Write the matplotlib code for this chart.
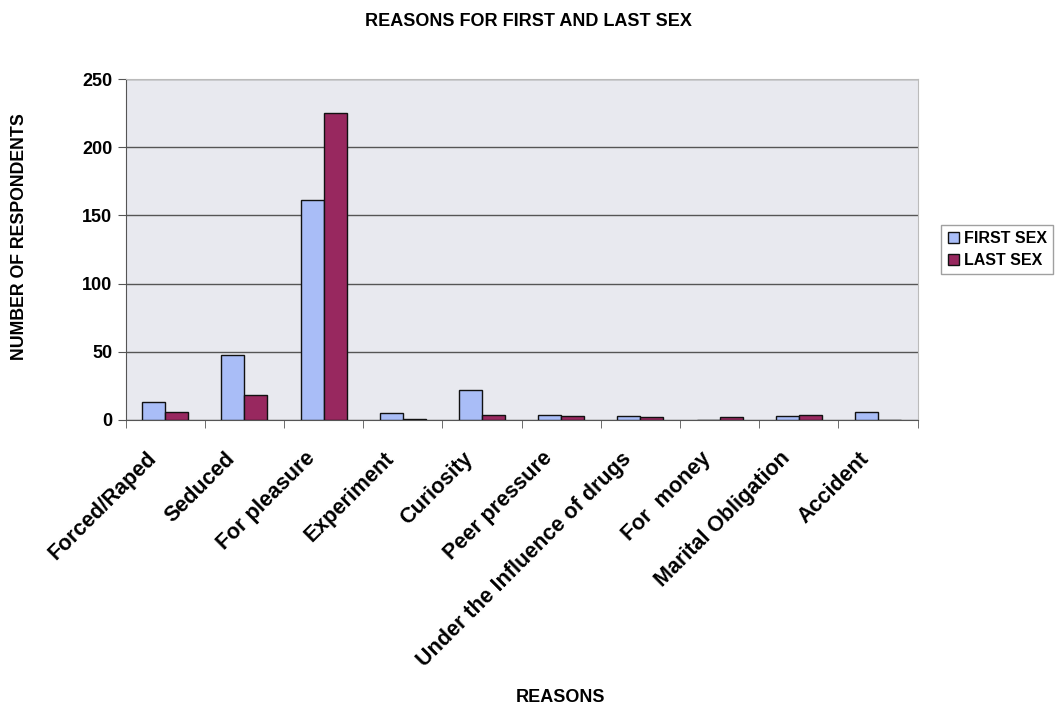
import numpy as np
import matplotlib.pyplot as plt
from matplotlib.ticker import FixedLocator
from matplotlib.transforms import ScaledTranslation

reasons = ['Forced/Raped', 'Seduced', 'For pleasure', 'Experiment', 'Curiosity',
           'Peer pressure', 'Under the Influence of drugs', 'For  money',
           'Marital Obligation', 'Accident']
first_sex = [13, 48, 161, 5, 22, 4, 3, 0, 3, 6]
last_sex = [6, 18, 225, 1, 4, 3, 2, 2, 4, 0]

plt.rcParams['font.family'] = ['Liberation Sans', 'DejaVu Sans']

fig = plt.figure(figsize=(10.56, 7.07), dpi=100)
ax = fig.add_axes([0.119, 0.406, 0.75, 0.482])
ax.set_facecolor('#e8e9ef')

x = np.arange(len(reasons))
w = 0.29
ax.bar(x - w / 2, first_sex, w, color='#a9bdf7', edgecolor='#111111', linewidth=1, label='FIRST SEX', zorder=3)
ax.bar(x + w / 2, last_sex, w, color='#98285f', edgecolor='#111111', linewidth=1, label='LAST SEX', zorder=3)

ax.set_xlim(-0.5, len(reasons) - 0.5)
ax.set_ylim(0, 250)
ax.set_yticks([0, 50, 100, 150, 200, 250])
ax.yaxis.grid(True, color='#555555', linewidth=1, zorder=1)

# category labels drawn as rotated text, anchored a bit left of each group centre
ax.set_xticks(x)
ax.set_xticklabels([])
ax.tick_params(axis='x', which='major', length=0)
trans = ax.get_xaxis_transform() + ScaledTranslation(-0.195, -0.28, fig.dpi_scale_trans)
for xi, name in zip(x, reasons):
    ax.text(xi, 0, name, transform=trans, rotation=45, ha='right', va='top',
            rotation_mode='anchor', fontsize=15.5, fontweight='bold')

ax.xaxis.set_minor_locator(FixedLocator(np.arange(-0.5, len(reasons), 1)))
ax.tick_params(axis='x', which='minor', length=6, color='#555555')
ax.tick_params(axis='y', length=6, color='#555555', labelsize=13)
for lab in ax.get_yticklabels():
    lab.set_fontweight('bold')

for s in ['top', 'right']:
    ax.spines[s].set_color('#bbbbbb')
for s in ['left', 'bottom']:
    ax.spines[s].set_color('#555555')

fig.text(0.018, 0.665, 'NUMBER OF RESPONDENTS', rotation=90, ha='center', va='center',
         fontsize=12.8, fontweight='bold')
fig.text(0.531, 0.007, 'REASONS', ha='center', fontsize=13, fontweight='bold')
fig.text(0.5, 0.963, 'REASONS FOR FIRST AND LAST SEX', ha='center', fontsize=13, fontweight='bold')

leg = ax.legend(loc='center left', bbox_to_anchor=(1.02, 0.5), fontsize=11.5,
                frameon=True, fancybox=False, edgecolor='#888888',
                handlelength=0.7, handleheight=0.7, handletextpad=0.3,
                borderpad=0.4, labelspacing=0.4)
for t in leg.get_texts():
    t.set_fontweight('bold')

fig.savefig('out.png', dpi=100)
